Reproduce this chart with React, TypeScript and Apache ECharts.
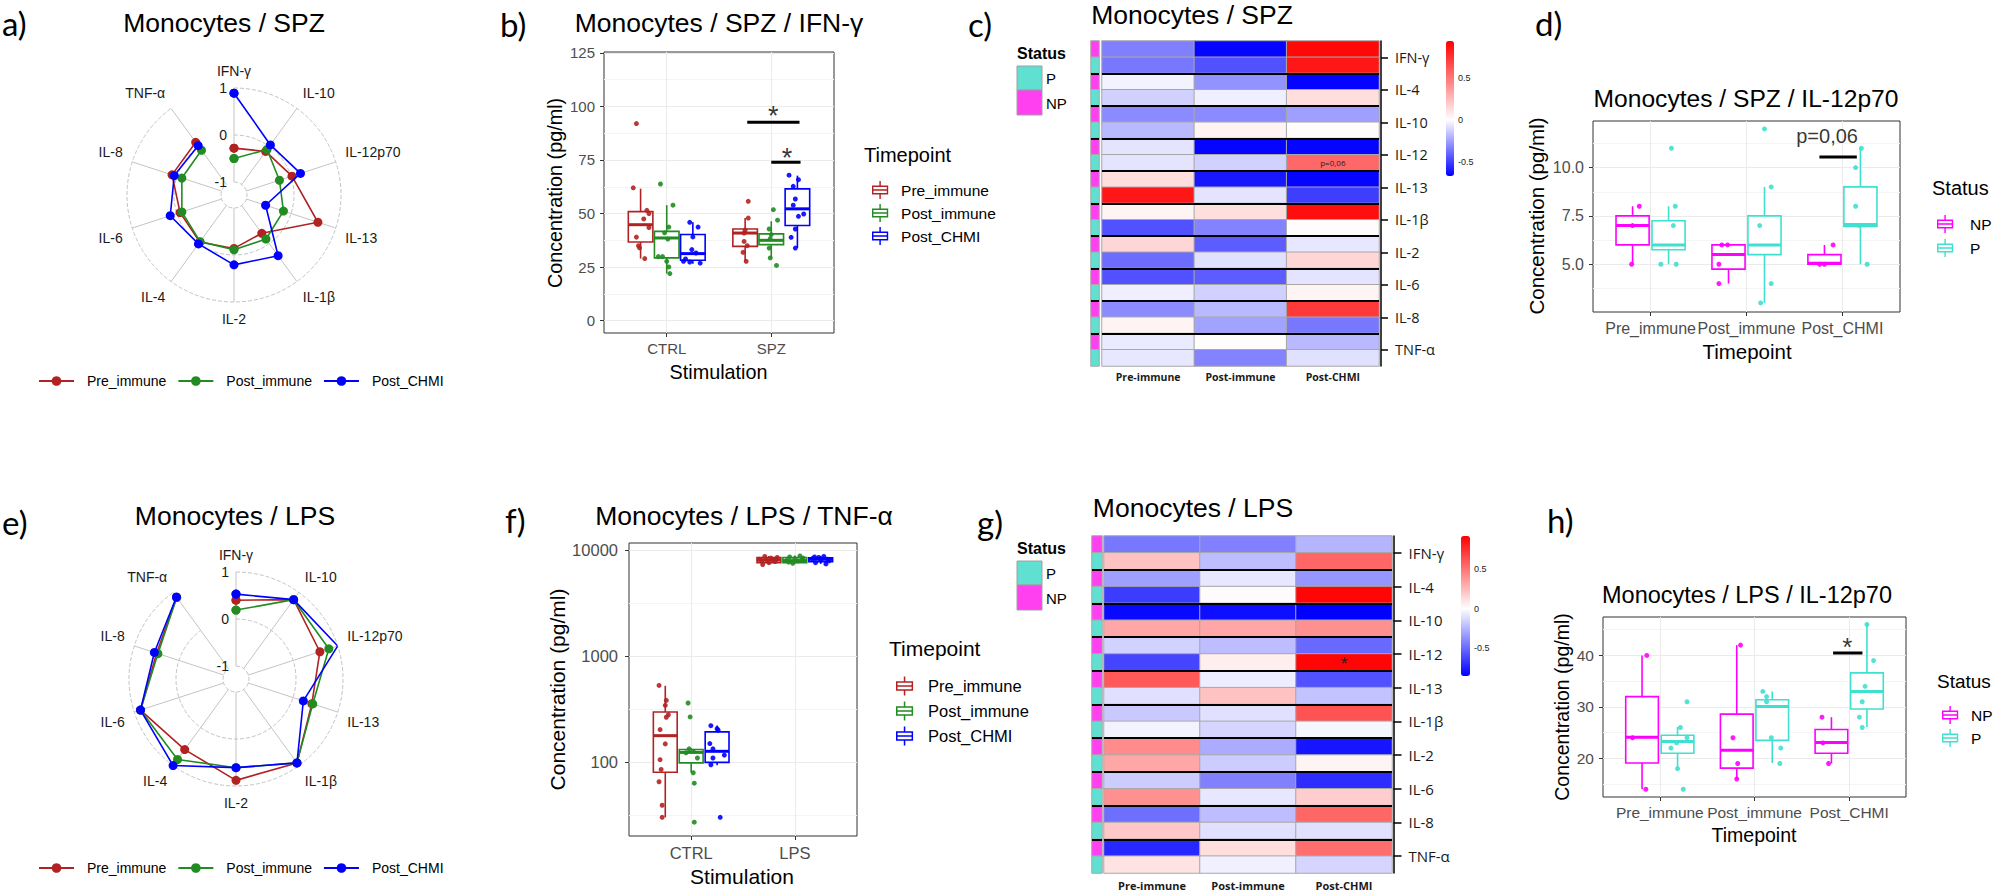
import React, { useEffect, useRef } from 'react';
import * as echarts from 'echarts';

// ---------------- data: radar panels (a, e) ----------------
const radarAxes = ['IFN-γ', 'IL-10', 'IL-12p70', 'IL-13', 'IL-1β', 'IL-2', 'IL-4', 'IL-6', 'IL-8', 'TNF-α'];
const timepoints = ['Pre_immune', 'Post_immune', 'Post_CHMI'];
const radarSpzPre = [-0.28, -0.13, 0.02, 0.6, -0.27, -0.14, -0.04, -0.07, 0.11, 0.11];
const radarSpzPost = [-0.5, -0.08, -0.26, -0.17, -0.12, -0.11, -0.05, -0.11, -0.11, -0.1];
const radarSpzChmi = [0.89, 0.04, 0.21, -0.57, 0.32, 0.21, 0.01, 0.15, 0.06, 0.02];
const radarLpsPre = [0.4, 0.81, 0.6, 0.42, 0.93, 0.88, 0.58, 0.86, 0.5, 0.87];
const radarLpsPost = [0.19, 0.81, 0.8, 0.44, 0.93, 0.61, 0.84, 0.86, 0.47, 0.87];
const radarLpsChmi = [0.53, 0.81, 1.0, 0.23, 0.93, 0.61, 1.0, 0.86, 0.55, 0.88];

// ---------------- data: b) SPZ / IFN-γ ----------------
const stimSpz = ['CTRL', 'SPZ'];
const ifngTicks = [0, 25, 50, 75, 100, 125];
const ifngMinor = [12.5, 37.5, 62.5, 87.5, 112.5];
// [lower whisker, Q1, median, Q3, upper whisker]
const ifngPreBox = [[29.0, 36.7, 44.8, 50.9, 61.6], [27.7, 34.7, 40.9, 42.8, 47.9]];
const ifngPostBox = [[22.0, 29.3, 38.6, 41.7, 53.9], [29.3, 35.5, 37.5, 40.5, 46.4]];
const ifngChmiBox = [[26.6, 28.2, 31.3, 40.2, 45.9], [33.9, 44.4, 52.2, 61.5, 67.7]];
// [jitter, value]
const ifngPrePts = [
  [[-0.04, 92], [-0.07, 62], [0.06, 51.5], [0.08, 50], [0.03, 47.5], [0.08, 43.5], [-0.04, 39], [-0.02, 35], [-0.01, 34], [0.04, 29]],
  [[0.03, 55.7], [0.03, 47.9], [0.0, 42.2], [-0.01, 40.9], [-0.01, 37], [0.02, 35], [-0.02, 31.9], [0.01, 27.7]],
];
const ifngPostPts = [
  [[-0.06, 63.8], [0.06, 53.9], [0.02, 43.7], [-0.02, 41], [0.01, 38.1], [-0.08, 29.9], [-0.04, 29.9], [0.0, 27.7], [0.02, 25.1], [0.03, 22]],
  [[0.02, 51.8], [0.06, 46.9], [-0.02, 42.8], [0.0, 40.2], [-0.01, 38.3], [-0.02, 33.9], [-0.01, 29.3], [0.05, 25.8]],
];
const ifngChmiPts = [
  [[-0.03, 45.9], [0.05, 43.7], [0.0, 39.1], [-0.01, 33.2], [0.03, 31.6], [-0.09, 27.7], [-0.03, 27.4], [0.07, 26.9], [-0.07, 28.8]],
  [[-0.08, 67.9], [0.01, 65.8], [-0.04, 62.7], [-0.02, 56.8], [-0.04, 53.9], [0.01, 48.7], [0.06, 49.8], [-0.02, 42.8], [-0.06, 38.9], [-0.02, 33.9]],
];
const ifngSig = [[0.77, 1.27, 92.6], [1.0, 1.28, 73.9]];
const ifngStars = [[1.02, 95.3, '*'], [1.15, 75.8, '*']];

// ---------------- data: f) LPS / TNF-α ----------------
const stimLps = ['CTRL', 'LPS'];
const tnfTicks = [100, 1000, 10000];
const tnfMinor = [31.62, 316.2, 3162];
const tnfPreBox = [[30, 80, 177, 296, 523], [7350, 7600, 8060, 8480, 8800]];
const tnfPostBox = [[79, 98, 123, 131, 135], [7450, 7600, 7940, 8500, 8900]];
const tnfChmiBox = [[93, 99, 126, 192, 221], [7400, 7750, 8180, 8450, 8800]];
const tnfPrePts = [
  [[-0.06, 527], [0.01, 381], [0.0, 342], [0.03, 279], [0.01, 264], [-0.05, 202], [0.0, 148], [-0.05, 105], [-0.04, 85], [-0.06, 65], [-0.03, 39], [-0.03, 30]],
  [[-0.09, 8200], [-0.06, 7300], [-0.04, 8700], [-0.02, 8000], [0.0, 7600], [0.02, 8400], [0.04, 8100], [0.06, 7800], [0.08, 8500], [-0.07, 7900]],
];
const tnfPostPts = [
  [[-0.03, 360], [-0.01, 266], [-0.02, 133], [0.02, 126], [-0.05, 122], [0.06, 109], [0.02, 79], [0.03, 63], [0.03, 27]],
  [[-0.08, 8000], [-0.05, 8600], [-0.02, 7500], [0.0, 8300], [0.03, 7900], [0.05, 8800], [0.07, 8100], [-0.06, 7700], [0.08, 8400]],
];
const tnfChmiPts = [
  [[-0.06, 220], [0.0, 206], [0.01, 199], [-0.07, 149], [-0.04, 133], [0.07, 116], [-0.04, 109], [-0.06, 94], [0.03, 30]],
  [[-0.08, 8300], [-0.05, 7600], [-0.02, 8500], [0.0, 8000], [0.03, 8700], [0.05, 7400], [0.07, 8200], [-0.06, 8600], [0.08, 7900]],
];

// ---------------- data: d) SPZ / IL-12p70 ----------------
const timepointCats = ['Pre_immune', 'Post_immune', 'Post_CHMI'];
const statusNames = ['NP', 'P'];
const spzIl12Ticks = [5, 7.5, 10];
const spzIl12Minor = [3.75, 6.25, 8.75, 11.25];
const spzIl12NPBox = [[5.0, 6.0, 7.0, 7.5, 8.0], [4.0, 4.75, 5.5, 6.0, 6.0], [5.0, 5.0, 5.05, 5.5, 6.0]];
const spzIl12PBox = [[5.0, 5.75, 6.0, 7.25, 8.0], [3.0, 5.5, 6.0, 7.5, 9.0], [5.0, 6.95, 7.05, 9.0, 11.0]];
const spzIl12NPPts = [
  [[0.07, 8], [0.0, 7], [-0.01, 5]],
  [[-0.07, 6], [-0.01, 6], [-0.1, 5], [-0.1, 4]],
  [[0.09, 6], [0.0, 5], [-0.05, 5]],
];
const spzIl12PPts = [
  [[0.03, 11], [0.07, 8], [0.05, 7], [-0.08, 5], [0.08, 5]],
  [[0.0, 12], [0.07, 9], [-0.05, 7], [0.07, 4], [-0.04, 3]],
  [[0.01, 11], [-0.05, 10], [-0.05, 8], [-0.01, 7], [0.07, 5]],
];
const spzIl12Sig = [[1.76, 2.15, 10.55]];
const spzIl12Notes = [[1.84, 11.62, 'p=0,06']];

// ---------------- data: h) LPS / IL-12p70 ----------------
const lpsIl12Ticks = [20, 30, 40];
const lpsIl12Minor = [15, 25, 35, 45];
const lpsIl12NPBox = [[14, 19.1, 24.1, 32, 40], [16, 18.1, 21.6, 28.6, 42], [19, 21, 23.1, 25.6, 28]];
const lpsIl12PBox = [[18.1, 21, 23.3, 24.5, 26.1], [19.1, 23.5, 30.1, 31.4, 33], [26.1, 29.6, 33, 36.6, 46.1]];
const lpsIl12NPPts = [
  [[0.05, 40], [0.04, 14], [-0.1, 24]],
  [[0.04, 42], [-0.04, 24], [0.01, 19], [0.0, 16]],
  [[-0.1, 28], [-0.03, 19], [-0.09, 23]],
];
const lpsIl12PPts = [
  [[0.1, 31], [0.03, 26], [0.1, 24], [-0.01, 23], [-0.07, 22], [0.0, 18], [0.06, 14]],
  [[-0.1, 33], [-0.06, 32], [-0.06, 31], [-0.01, 24], [0.09, 22], [0.08, 19]],
  [[0.0, 46], [0.07, 39], [-0.02, 34], [-0.05, 31], [-0.08, 28], [-0.05, 26]],
];
const lpsIl12Sig = [[1.83, 2.14, 40.45]];
const lpsIl12Stars = [[1.98, 41.55, '*']];

// ---------------- data: heatmaps (c, g) ----------------
const heatCytokines = ['IFN-γ', 'IL-4', 'IL-10', 'IL-12', 'IL-13', 'IL-1β', 'IL-2', 'IL-6', 'IL-8', 'TNF-α'];
const heatStatus = ['NP', 'P'];
const heatCols = ['Pre-immune', 'Post-immune', 'Post-CHMI'];
const colorbarTicks = [0.5, 0, -0.5];
// rows: IFN-γ NP, IFN-γ P, IL-4 NP, IL-4 P, ...
const heatSpzPre = [-0.33, -0.35, -0.03, -0.12, -0.3, -0.18, -0.07, -0.07, 0.12, 0.85, 0.04, -0.45, 0.15, -0.38, -0.45, -0.04, -0.3, 0.04, -0.05, -0.06];
const heatSpzPost = [-0.65, -0.45, -0.28, -0.04, -0.3, 0.04, -0.65, -0.12, -0.6, -0.07, 0.12, -0.32, -0.42, -0.08, -0.42, -0.12, -0.18, -0.24, 0.01, -0.32];
const heatSpzChmi = [0.9, 0.85, -0.65, 0.12, -0.25, 0.01, -0.65, 0.55, -0.65, -0.5, 0.88, 0.01, -0.06, 0.15, -0.07, 0.04, 0.72, -0.35, -0.18, -0.08];
const heatSpzRange = [-0.66, 0.93];
const heatSpzNotes = [[2, 7, 'p=0,06']];
const heatLpsPre = [-0.45, 0.22, -0.32, -0.65, -0.82, 0.32, -0.15, -0.62, 0.6, -0.1, -0.18, -0.04, 0.42, 0.32, -0.17, 0.4, -0.48, 0.2, -0.72, 0.1];
const heatLpsPost = [-0.42, -0.22, -0.08, 0.01, -0.8, 0.32, -0.22, 0.06, -0.06, 0.22, -0.1, -0.14, -0.28, -0.17, -0.42, -0.08, -0.22, -0.1, 0.12, -0.05];
const heatLpsChmi = [-0.25, 0.55, -0.35, 0.9, -0.85, 0.4, -0.5, 0.9, -0.58, -0.2, 0.62, -0.03, -0.78, 0.04, -0.7, 0.18, 0.55, -0.1, 0.52, -0.14];
const heatLpsRange = [-0.85, 0.92];
const heatLpsNotes = [[2, 7, '*']];

// ---------------- styles ----------------
const FONT = 'Liberation Sans';
const LETTER_FONT = 'Lato';
const HEAT_FONT = 'Open Sans';
const TP_COLORS = ['#B22222', '#228B22', '#0000FF'];
const STATUS_COLORS = ['#FF00FF', '#40E0D0'];
const STRIP_COLORS = ['#FF40F0', '#5FE0D0'];
const BOX_ICON = 'path://M1,5H19V15H1Z M2.6,6.6V13.4H17.4V6.6Z M2.6,9.2H17.4V10.8H2.6Z M9.2,0H10.8V5H9.2Z M9.2,15H10.8V20H9.2Z';

const heatRows = heatCytokines.flatMap((c) => heatStatus.map((s) => c + ' ' + s));
const heatRowStatus = heatCytokines.flatMap(() => heatStatus.map((_, si) => si));

function divergingStops(min: number, max: number) {
  const out: string[] = [];
  const n = 48;
  for (let i = 0; i <= n; i++) {
    const v = min + ((max - min) * i) / n;
    let r: number, g: number, b: number;
    if (v < 0) {
      const t = v / min;
      r = g = Math.round(255 * (1 - t));
      b = 255;
    } else {
      const t = v / max;
      r = 255;
      g = b = Math.round(255 * (1 - t));
    }
    out.push(`rgb(${r},${g},${b})`);
  }
  return out;
}

function buildOption() {
  const grid: any[] = [];
  const xAxis: any[] = [];
  const yAxis: any[] = [];
  const polar: any[] = [];
  const angleAxis: any[] = [];
  const radiusAxis: any[] = [];
  const series: any[] = [];
  const visualMap: any[] = [];
  const legend: any[] = [];
  const graphic: any[] = [];

  const text = (t: string, x: number, y: number, size: number, extra: any = {}) => {
    const align = extra.align || 'left';
    graphic.push({
      type: 'text', x, y, rotation: extra.rot || 0, silent: true, z: 10,
      style: {
        text: t, fontSize: size, fontFamily: extra.family || FONT, fontWeight: extra.weight || 'normal',
        fill: extra.color || '#000', align, verticalAlign: 'middle', textAlign: align, textVerticalAlign: 'middle',
      },
    });
  };

  // ---------- radar (polar) ----------
  const addRadar = (center: number[], vals: number[][], legendTop: number) => {
    const pi = polar.length;
    polar.push({ center, radius: [13, 107] });
    angleAxis.push({
      polarIndex: pi, type: 'category', data: radarAxes, boundaryGap: false, startAngle: 90, clockwise: true,
      axisLine: { show: false }, axisTick: { show: false },
      axisLabel: { interval: 0, margin: 10, fontSize: 14, color: '#1a1a1a', fontFamily: FONT },
      splitLine: { show: true, interval: 0, lineStyle: { color: '#c4c4c4', width: 1 } },
    });
    radiusAxis.push({
      polarIndex: pi, type: 'value', min: -1, max: 1, interval: 1,
      axisLine: { show: false }, axisTick: { show: false },
      axisLabel: { fontSize: 14, color: '#1a1a1a', margin: 7, fontFamily: FONT },
      splitLine: { show: true, lineStyle: { color: '#c4c4c4', type: 'dashed', width: 1 } },
    });
    vals.forEach((v, k) => {
      series.push({
        type: 'line', name: timepoints[k], coordinateSystem: 'polar', polarIndex: pi,
        data: [...v, v[0]].map((r, i) => [r, radarAxes[i % radarAxes.length]]),
        symbol: 'circle', symbolSize: 9, color: TP_COLORS[k],
        lineStyle: { width: 1.6, color: TP_COLORS[k] }, itemStyle: { color: TP_COLORS[k] },
        z: 3 + k, silent: true,
      });
    });
    legend.push({
      data: timepoints, left: 33, top: legendTop, orient: 'horizontal', itemWidth: 35, itemHeight: 12, itemGap: 11,
      selectedMode: false, textStyle: { fontSize: 14, fontFamily: FONT, color: '#000', padding: [0, 0, 0, 8] },
    });
  };
  addRadar([234, 195], [radarSpzPre, radarSpzPost, radarSpzChmi], 369);
  addRadar([236, 679], [radarLpsPre, radarLpsPost, radarLpsChmi], 856);

  // ---------- box panels ----------
  const addBoxPanel = (o: any) => {
    const gi = grid.length;
    grid.push({ left: o.rect[0], top: o.rect[1], width: o.rect[2], height: o.rect[3], show: true, borderColor: '#333', borderWidth: 1, backgroundColor: 'rgba(0,0,0,0)' });
    const xi = xAxis.length;
    const catIdx = o.cats.map((_: any, i: number) => i);
    xAxis.push({
      gridIndex: gi, type: 'value', min: -0.6, max: o.cats.length - 0.4, position: 'bottom',
      axisLine: { show: false, onZero: false },
      axisTick: { show: true, length: 4, customValues: catIdx, lineStyle: { color: '#333' } },
      axisLabel: { customValues: catIdx, formatter: (v: number) => o.cats[Math.round(v)] ?? '', fontSize: o.fs, color: '#4d4d4d', margin: o.xm, fontFamily: FONT },
      splitLine: { show: true, lineStyle: { color: '#ebebeb', width: 1 } },
    });
    const yi = yAxis.length;
    const ytype = o.log ? 'log' : 'value';
    yAxis.push({
      gridIndex: gi, type: ytype, min: o.yr[0], max: o.yr[1], position: 'left',
      axisLine: { show: false, onZero: false },
      axisTick: { show: true, length: 4, customValues: o.ticks, lineStyle: { color: '#333' } },
      axisLabel: { customValues: o.ticks, formatter: o.fmt, fontSize: o.fs, color: '#4d4d4d', margin: o.ym, fontFamily: FONT },
      splitLine: { show: true, lineStyle: { color: '#ebebeb', width: 1 } },
    });
    yAxis.push({
      gridIndex: gi, type: ytype, min: o.yr[0], max: o.yr[1], position: 'left',
      axisLine: { show: false, onZero: false }, axisLabel: { show: false },
      axisTick: { show: false, customValues: o.minor },
      splitLine: { show: true, lineStyle: { color: '#f4f4f4', width: 1 } },
    });
    o.groups.forEach((g: any) => {
      const hw = g.width / 2;
      series.push({
        type: 'custom', name: g.name, xAxisIndex: xi, yAxisIndex: yi, z: 3, silent: true,
        itemStyle: { color: g.color },
        data: g.boxes.map((b: number[], i: number) => [i + g.offset, ...b]),
        renderItem: (params: any, api: any) => {
          const x = api.value(0);
          const lo = api.coord([x, api.value(1)]);
          const q1 = api.coord([x, api.value(2)]);
          const md = api.coord([x, api.value(3)]);
          const q3 = api.coord([x, api.value(4)]);
          const hi = api.coord([x, api.value(5)]);
          const xl = api.coord([x - hw, api.value(3)])[0];
          const xr = api.coord([x + hw, api.value(3)])[0];
          const st = { stroke: g.color, lineWidth: 1.6 };
          return {
            type: 'group',
            children: [
              { type: 'line', shape: { x1: lo[0], y1: lo[1], x2: q1[0], y2: q1[1] }, style: st },
              { type: 'line', shape: { x1: q3[0], y1: q3[1], x2: hi[0], y2: hi[1] }, style: st },
              { type: 'rect', shape: { x: xl, y: q3[1], width: xr - xl, height: q1[1] - q3[1] }, style: { fill: '#fff', stroke: g.color, lineWidth: 1.6 } },
              { type: 'line', shape: { x1: xl, y1: md[1], x2: xr, y2: md[1] }, style: { stroke: g.color, lineWidth: 3 } },
            ],
          };
        },
      });
    });
    o.groups.forEach((g: any) => {
      series.push({
        type: 'scatter', name: g.name, xAxisIndex: xi, yAxisIndex: yi, z: 4, silent: true,
        symbolSize: 5, itemStyle: { color: g.color, opacity: 0.9 },
        data: g.pts.flatMap((grp: number[][], i: number) => grp.map(([j, v]) => [i + g.offset + j, v])),
      });
    });
    (o.sig || []).forEach(([x1, x2, y]: number[]) => {
      series.push({
        type: 'line', xAxisIndex: xi, yAxisIndex: yi, data: [[x1, y], [x2, y]], symbol: 'none',
        lineStyle: { color: '#000', width: 3 }, silent: true, z: 6,
      });
    });
    (o.notes || []).forEach(([x, y, t]: any[]) => {
      series.push({
        type: 'scatter', xAxisIndex: xi, yAxisIndex: yi, data: [[x, y]], symbolSize: 1, silent: true, z: 7,
        itemStyle: { color: 'rgba(0,0,0,0)' },
        label: { show: true, position: 'inside', formatter: t, fontSize: o.noteSize, color: '#000', fontFamily: FONT },
      });
    });
    legend.push({
      data: o.groups.map((g: any) => ({ name: g.name, icon: BOX_ICON })),
      formatter: (n: string) => n.slice(2),
      orient: 'vertical', left: o.legend[0], top: o.legend[1], itemWidth: o.legend[2], itemHeight: o.legend[2], itemGap: o.legend[3],
      selectedMode: false, itemStyle: { borderWidth: 0 },
      textStyle: { fontSize: o.legend[4], fontFamily: FONT, color: '#000', padding: [0, 0, 0, o.legend[5]] },
    });
  };

  const tpGroups = (boxes: number[][][], pts: number[][][][], off: number, w: number) =>
    timepoints.map((t, k) => ({ name: 'T:' + t, color: TP_COLORS[k], boxes: boxes[k], pts: pts[k], offset: (k - 1) * off, width: w }));
  const stGroups = (boxes: number[][][], pts: number[][][][]) =>
    statusNames.map((s, k) => ({ name: 'S:' + s, color: STATUS_COLORS[k], boxes: boxes[k], pts: pts[k], offset: k === 0 ? -0.1875 : 0.1875, width: 0.345 }));

  // b)
  addBoxPanel({
    rect: [604, 52, 230, 281], cats: stimSpz, yr: [-5.75, 125.4], ticks: ifngTicks, minor: ifngMinor,
    fmt: (v: number) => String(v), fs: 15, xm: 8, ym: 9,
    groups: tpGroups([ifngPreBox, ifngPostBox, ifngChmiBox], [ifngPrePts, ifngPostPts, ifngChmiPts], 0.25, 0.235),
    sig: ifngSig, notes: ifngStars, noteSize: 27,
    legend: [867, 176, 18, 5, 15.5, 7],
  });
  // f)
  addBoxPanel({
    rect: [629, 543, 228, 293], cats: stimLps, yr: [20, 11650], log: true, ticks: tnfTicks, minor: tnfMinor,
    fmt: (v: number) => String(Math.round(v)), fs: 16.5, xm: 8, ym: 11,
    groups: tpGroups([tnfPreBox, tnfPostBox, tnfChmiBox], [tnfPrePts, tnfPostPts, tnfChmiPts], 0.25, 0.23),
    legend: [891, 671.5, 19, 6, 16.5, 9],
  });
  // d)
  addBoxPanel({
    rect: [1593, 121, 307, 191], cats: timepointCats, yr: [2.53, 12.41], ticks: spzIl12Ticks, minor: spzIl12Minor,
    fmt: (v: number) => v.toFixed(1), fs: 16, xm: 8, ym: 9,
    groups: stGroups([spzIl12NPBox, spzIl12PBox], [spzIl12NPPts, spzIl12PPts]),
    sig: spzIl12Sig, notes: spzIl12Notes, noteSize: 20,
    legend: [1932, 210, 18, 6, 15.5, 11],
  });
  // h)
  addBoxPanel({
    rect: [1603, 617, 303, 180], cats: timepointCats, yr: [12.5, 47.46], ticks: lpsIl12Ticks, minor: lpsIl12Minor,
    fmt: (v: number) => String(v), fs: 15.5, xm: 7, ym: 9,
    groups: stGroups([lpsIl12NPBox, lpsIl12PBox], [lpsIl12NPPts, lpsIl12PPts]),
    sig: lpsIl12Sig, notes: lpsIl12Stars, noteSize: 26,
    legend: [1937, 701, 18, 5, 15.5, 7],
  });

  // ---------- heatmaps ----------
  const addHeat = (o: any) => {
    const sep = { show: true, interval: 0, showMinLine: false, showMaxLine: false, lineStyle: { color: '#000', width: 2 } };
    const gs = grid.length;
    grid.push({ left: o.strip[0], top: o.strip[1], width: o.strip[2], height: o.strip[3] });
    const xs = xAxis.length;
    xAxis.push({ gridIndex: gs, type: 'category', data: ['Status'], show: false });
    const ys = yAxis.length;
    yAxis.push({ gridIndex: gs, type: 'category', data: heatRows, inverse: true, show: false });
    yAxis.push({
      gridIndex: gs, type: 'category', data: heatCytokines, inverse: true, z: 5, position: 'right',
      axisLine: { show: false }, axisTick: { show: false }, axisLabel: { show: false }, splitLine: sep,
    });
    const sStrip = series.length;
    series.push({
      type: 'heatmap', xAxisIndex: xs, yAxisIndex: ys, silent: true,
      data: heatRowStatus.map((s, r) => [0, r, s]),
      itemStyle: { borderColor: '#a8a8a8', borderWidth: 1 }, emphasis: { disabled: true },
    });
    visualMap.push({
      type: 'piecewise', show: false, seriesIndex: sStrip, dimension: 2,
      pieces: [{ value: 0, color: STRIP_COLORS[0] }, { value: 1, color: STRIP_COLORS[1] }],
    });

    const gh = grid.length;
    grid.push({ left: o.heat[0], top: o.heat[1], width: o.heat[2], height: o.heat[3] });
    const xh = xAxis.length;
    xAxis.push({
      gridIndex: gh, type: 'category', data: heatCols,
      axisLine: { show: false }, axisTick: { show: false }, splitLine: { show: false },
      axisLabel: { interval: 0, margin: o.colMargin, fontFamily: HEAT_FONT, fontWeight: 'bold', fontSize: o.colSize, color: '#1a1a1a' },
    });
    const yh = yAxis.length;
    yAxis.push({ gridIndex: gh, type: 'category', data: heatRows, inverse: true, show: false });
    yAxis.push({
      gridIndex: gh, type: 'category', data: heatCytokines, inverse: true, position: 'right', offset: o.brOff, z: 5,
      axisLine: { show: true, lineStyle: { color: '#000', width: 1.5 } },
      axisTick: { show: true, alignWithLabel: true, interval: 0, length: o.tickLen, lineStyle: { color: '#000', width: 1.5 } },
      axisLabel: { interval: 0, margin: o.labMargin, fontFamily: HEAT_FONT, fontSize: o.rowSize, color: '#1a1a1a' },
      splitLine: sep,
    });
    const data: any[] = [];
    o.cols.forEach((arr: number[], ci: number) =>
      arr.forEach((v, ri) => {
        const note = o.notes.find((n: any[]) => n[0] === ci && n[1] === ri);
        data.push(note
          ? { value: [ci, ri, v], label: { show: true, formatter: note[2], fontSize: o.noteSize, color: '#222', fontFamily: HEAT_FONT } }
          : [ci, ri, v]);
      }));
    const sHeat = series.length;
    series.push({
      type: 'heatmap', xAxisIndex: xh, yAxisIndex: yh, silent: true, data,
      itemStyle: { borderColor: '#a8a8a8', borderWidth: 1 }, label: { show: false }, emphasis: { disabled: true },
    });
    const [min, max] = o.range;
    visualMap.push({
      type: 'continuous', seriesIndex: sHeat, dimension: 2, min, max, calculable: false, orient: 'vertical',
      left: o.bar[0], top: o.bar[1], itemWidth: o.bar[2], itemHeight: o.bar[3], padding: 0,
      inRange: { color: divergingStops(min, max) },
    });
    colorbarTicks.forEach((t) => {
      const y = o.bar[1] + ((max - t) / (max - min)) * o.bar[3];
      text(String(t), o.bar[0] + o.bar[2] + 4, y, 9, { color: '#222' });
    });
  };

  addHeat({
    strip: [1091, 41, 8, 325], heat: [1102, 41, 277, 325], cols: [heatSpzPre, heatSpzPost, heatSpzChmi],
    range: heatSpzRange, notes: heatSpzNotes, noteSize: 8, colMargin: 5, colSize: 10.5, rowSize: 14.5,
    brOff: 2, tickLen: 7, labMargin: 14, bar: [1446, 41, 8, 135],
  });
  addHeat({
    strip: [1092, 536, 10, 337], heat: [1104, 536, 288, 337], cols: [heatLpsPre, heatLpsPost, heatLpsChmi],
    range: heatLpsRange, notes: heatLpsNotes, noteSize: 14, colMargin: 7, colSize: 11, rowSize: 15,
    brOff: 1.5, tickLen: 8, labMargin: 15, bar: [1461, 536, 9, 140],
  });

  // Status legends for heatmaps
  const statusLegend = (top: number) => {
    text('Status', 1017, top, 16, { weight: 'bold' });
    graphic.push({ type: 'rect', silent: true, shape: { x: 1017, y: top + 13, width: 25, height: 24 }, style: { fill: STRIP_COLORS[1], stroke: '#a0a0a0', lineWidth: 1 } });
    graphic.push({ type: 'rect', silent: true, shape: { x: 1017, y: top + 37, width: 25, height: 25 }, style: { fill: STRIP_COLORS[0], stroke: '#a0a0a0', lineWidth: 1 } });
    text('P', 1046, top + 25, 15);
    text('NP', 1046, top + 50, 15);
  };
  statusLegend(53);
  statusLegend(548);

  // panel letters
  const letters: [string, number, number][] = [
    ['a)', 2, 23], ['b)', 500, 24], ['c)', 968, 24], ['d)', 1535, 23],
    ['e)', 2, 522], ['f)', 505, 520], ['g)', 977, 522], ['h)', 1547, 520],
  ];
  letters.forEach(([t, x, y]) => text(t, x, y, 33, { family: LETTER_FONT }));

  // titles
  const titles: [string, number, number, number][] = [
    ['Monocytes / SPZ', 224, 23, 26.5], ['Monocytes / SPZ / IFN-γ', 719, 23, 26.5], ['Monocytes / SPZ', 1192, 15, 26.5],
    ['Monocytes / SPZ / IL-12p70', 1746, 98, 24.6], ['Monocytes / LPS', 235, 516, 26.5], ['Monocytes / LPS / TNF-α', 744, 516, 26.5],
    ['Monocytes / LPS', 1193, 508, 26.5], ['Monocytes / LPS / IL-12p70', 1747, 595, 23.5],
  ];
  titles.forEach(([t, x, y, s]) => text(t, x, y, s, { align: 'center' }));

  // axis titles
  const yTitle = 'Concentration (pg/ml)';
  text(yTitle, 555, 193, 19.8, { align: 'center', rot: Math.PI / 2 });
  text('Stimulation', 718.5, 371.5, 19.8, { align: 'center' });
  text(yTitle, 1536, 216, 20.5, { align: 'center', rot: Math.PI / 2 });
  text('Timepoint', 1747, 351, 20.5, { align: 'center' });
  text(yTitle, 557, 689.5, 21, { align: 'center', rot: Math.PI / 2 });
  text('Stimulation', 742, 876, 21, { align: 'center' });
  text(yTitle, 1562, 707, 19.5, { align: 'center', rot: Math.PI / 2 });
  text('Timepoint', 1754, 835, 19.5, { align: 'center' });

  // legend titles
  text('Timepoint', 864, 155, 20);
  text('Timepoint', 889, 648, 21);
  text('Status', 1932, 188, 20);
  text('Status', 1937, 681, 19);

  return {
    animation: false,
    backgroundColor: '#fff',
    textStyle: { fontFamily: FONT },
    grid, xAxis, yAxis, polar, angleAxis, radiusAxis, series, visualMap, legend, graphic,
  };
}

export default function App() {
  const ref = useRef<HTMLDivElement>(null);
  useEffect(() => {
    const chart = echarts.init(ref.current as HTMLDivElement, null, { renderer: 'svg' });
    chart.setOption(buildOption() as any);
    return () => chart.dispose();
  }, []);
  return <div ref={ref} style={{ position: 'absolute', left: 0, top: 0, width: 2000, height: 893, background: '#fff' }} />;
}
